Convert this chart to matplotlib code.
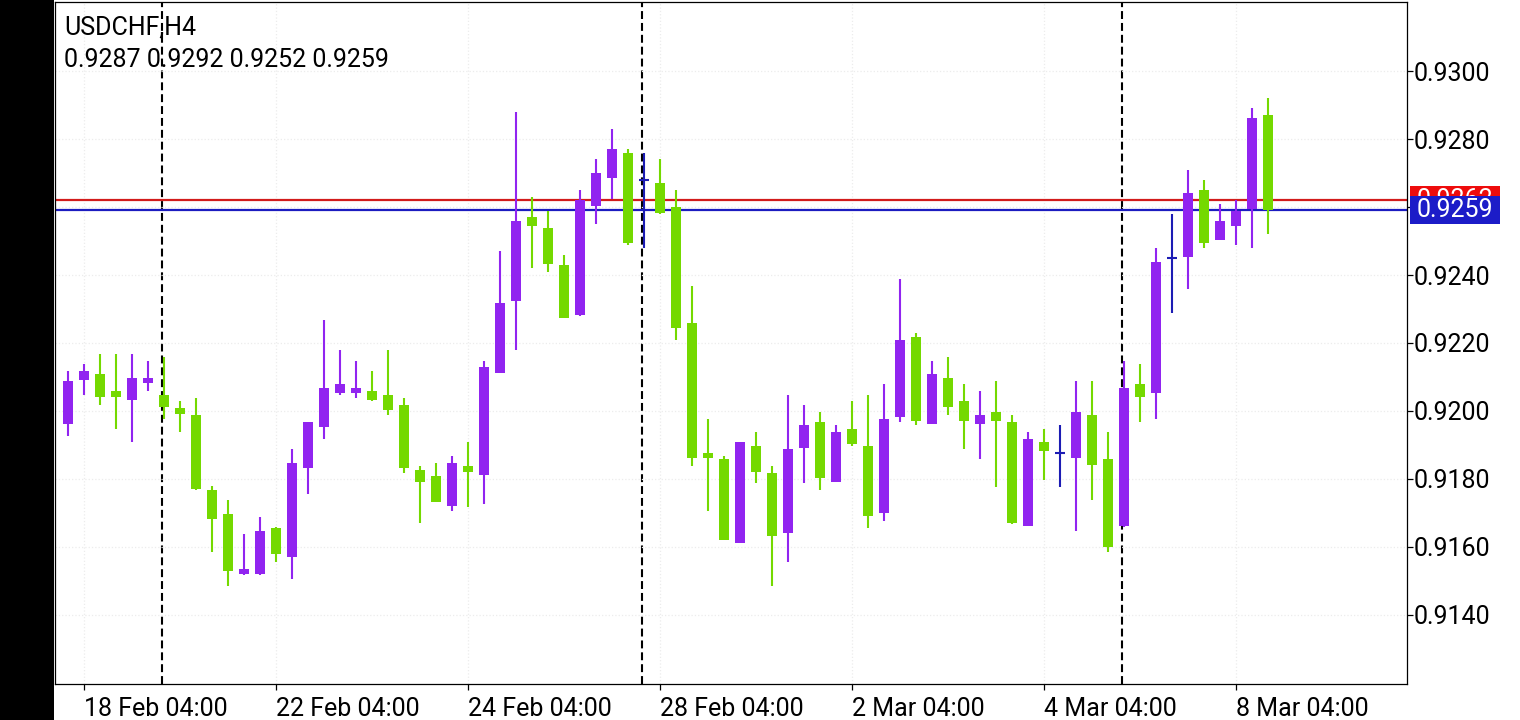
import matplotlib
matplotlib.use('Agg')
import matplotlib.pyplot as plt
import matplotlib.transforms as mtransforms
from matplotlib.patches import Rectangle
import numpy as np
import pandas as pnd

plt.rcParams['font.family'] = ['Roboto', 'DejaVu Sans']

symbol = 'USDCHF,H4'

# H4 candles, oldest first
opens = [0.91963, 0.92092, 0.92110, 0.92059, 0.92033, 0.92083, 0.92047, 0.92009, 0.91988, 0.91768,
         0.91697, 0.91521, 0.91521, 0.91656, 0.91571, 0.91833, 0.91954, 0.92054, 0.92054, 0.92059,
         0.92047, 0.92018, 0.91826, 0.91809, 0.91721, 0.91838, 0.91813, 0.92113, 0.92324, 0.92571,
         0.92538, 0.92429, 0.92282, 0.92604, 0.92686, 0.92759, 0.92679, 0.92671, 0.92600, 0.92259,
         0.91876, 0.91859, 0.91613, 0.91897, 0.91818, 0.91642, 0.91892, 0.91968, 0.91792, 0.91947,
         0.91897, 0.91701, 0.91983, 0.92218, 0.91963, 0.92097, 0.92029, 0.91963, 0.91997, 0.91968,
         0.91663, 0.91909, 0.91877, 0.91863, 0.91988, 0.91859, 0.91663, 0.92079, 0.92054, 0.92450,
         0.92454, 0.92650, 0.92504, 0.92545, 0.92595, 0.92870]
highs = [0.92118, 0.92138, 0.92168, 0.92168, 0.92168, 0.92147, 0.92158, 0.92029, 0.92038, 0.91778,
         0.91738, 0.91638, 0.91687, 0.91660, 0.91888, 0.91968, 0.92268, 0.92179, 0.92147, 0.92118,
         0.92179, 0.92038, 0.91838, 0.91847, 0.91868, 0.91909, 0.92147, 0.92471, 0.92879, 0.92629,
         0.92588, 0.92459, 0.92650, 0.92741, 0.92829, 0.92771, 0.92758, 0.92741, 0.92650, 0.92368,
         0.91976, 0.91868, 0.91909, 0.91938, 0.91838, 0.92047, 0.92018, 0.91997, 0.91959, 0.92029,
         0.92047, 0.92079, 0.92388, 0.92229, 0.92147, 0.92159, 0.92079, 0.92059, 0.92088, 0.91988,
         0.91938, 0.91947, 0.91959, 0.92088, 0.92088, 0.91938, 0.92147, 0.92138, 0.92479, 0.92579,
         0.92709, 0.92679, 0.92609, 0.92621, 0.92891, 0.92920]
lows = [0.91927, 0.92048, 0.92019, 0.91948, 0.91910, 0.92059, 0.91977, 0.91939, 0.91769, 0.91586,
        0.91486, 0.91519, 0.91519, 0.91557, 0.91507, 0.91757, 0.91918, 0.92048, 0.92039, 0.92030,
        0.91989, 0.91818, 0.91672, 0.91733, 0.91707, 0.91719, 0.91727, 0.92113, 0.92180, 0.92421,
        0.92410, 0.92274, 0.92279, 0.92551, 0.92624, 0.92488, 0.92480, 0.92580, 0.92210, 0.91839,
        0.91705, 0.91621, 0.91613, 0.91789, 0.91486, 0.91557, 0.91789, 0.91769, 0.91792, 0.91897,
        0.91657, 0.91677, 0.91969, 0.91960, 0.91963, 0.91989, 0.91889, 0.91860, 0.91777, 0.91668,
        0.91663, 0.91798, 0.91777, 0.91648, 0.91739, 0.91586, 0.91660, 0.91969, 0.91977, 0.92289,
        0.92360, 0.92480, 0.92504, 0.92488, 0.92480, 0.92520]
closes = [0.92088, 0.92118, 0.92042, 0.92042, 0.92097, 0.92097, 0.92013, 0.91992, 0.91771, 0.91683,
          0.91530, 0.91535, 0.91647, 0.91580, 0.91847, 0.91968, 0.92068, 0.92079, 0.92069, 0.92033,
          0.92004, 0.91833, 0.91792, 0.91733, 0.91847, 0.91821, 0.92129, 0.92318, 0.92559, 0.92545,
          0.92433, 0.92274, 0.92621, 0.92700, 0.92771, 0.92495, 0.92679, 0.92583, 0.92245, 0.91863,
          0.91863, 0.91621, 0.91909, 0.91821, 0.91633, 0.91888, 0.91959, 0.91804, 0.91938, 0.91904,
          0.91692, 0.91976, 0.92209, 0.91971, 0.92109, 0.92013, 0.91971, 0.91988, 0.91971, 0.91671,
          0.91918, 0.91883, 0.91877, 0.91997, 0.91842, 0.91601, 0.92068, 0.92042, 0.92438, 0.92450,
          0.92641, 0.92495, 0.92559, 0.92588, 0.92862, 0.92590]
ask = 0.9262

# candle times: 4h bars, weekends skipped, first bar 18 Feb 2022 00:00
times = pnd.date_range('2022-02-18 00:00', periods=200, freq='4h')
times = times[times.weekday < 5][:len(opens)]

up_col = '#9124f0'
down_col = '#74d900'
doji_col = '#1c1cb4'

fig = plt.figure(figsize=(15.2, 7.2), dpi=100)
W, H = 1520, 720
ax = fig.add_axes([55 / W, (H - 684) / H, (1407 - 55) / W, (684 - 2) / H])

# black strip on the left
fig.patches.append(Rectangle((0, 0), 54 / W, 1, transform=fig.transFigure,
                             facecolor='black', edgecolor='none', zorder=0))

x = np.arange(len(opens))
o = np.array(opens)
c = np.array(closes)
h = np.array(highs)
l = np.array(lows)

ax.set_xlim(-0.8, 83.7)
ax.set_ylim(0.91197, 0.93203)

# grid
ax.grid(True, color='#ececec', linestyle=':', linewidth=0.9, zorder=0)

# week separators (monday 00:00)
for i, t in enumerate(times):
    if t.weekday() == 0 and t.hour == 0:
        ax.axvline(i - 0.1, color='black', lw=1.5, dashes=(3.8, 1.9), zorder=1)

# bid / ask lines
bid = closes[-1]
ax.axhline(ask, color='#d21c1c', lw=1.6, zorder=2)
ax.axhline(bid, color='#1c1cc0', lw=1.6, zorder=2)

# candles
doji = np.isclose(o, c)
up = (c > o) & ~doji
down = (c < o) & ~doji
for mask, col in ((up, up_col), (down, down_col)):
    ax.vlines(x[mask], l[mask], h[mask], color=col, lw=1.5, zorder=3)
    bottoms = np.minimum(o[mask], c[mask])
    heights = np.abs(c[mask] - o[mask])
    ax.bar(x[mask], heights, bottom=bottoms, width=0.62, color=col, linewidth=0, zorder=4)
ax.vlines(x[doji], l[doji], h[doji], color=doji_col, lw=1.5, zorder=3)
ax.hlines(o[doji], x[doji] - 0.3, x[doji] + 0.3, color=doji_col, lw=1.5, zorder=4)

# axes styling
for sp in ax.spines.values():
    sp.set_color('black')
    sp.set_linewidth(0.9)

yt = np.arange(0.9140, 0.93001, 0.0020)
ax.yaxis.tick_right()
ax.set_yticks(yt)
ax.set_yticklabels(['%.4f' % v for v in yt])
ax.tick_params(axis='y', direction='out', length=4, width=0.9, pad=0.5, labelsize=18, colors='black')

xt = x[1::12]
ax.set_xticks(xt)
ax.set_xticklabels(['%d %s' % (times[i].day, times[i].strftime('%b %H:%M')) for i in xt], ha='left')
ax.tick_params(axis='x', direction='out', length=4, width=0.9, pad=5, labelsize=18, colors='black')

# price tags on the right: ask tag first, bid tag laid over it
tr = mtransforms.blended_transform_factory(ax.transAxes, ax.transData)
bx0 = (1410 - 55) / 1352
bw = 90 / 1352
bh = 28 / 34000
ask_box = Rectangle((bx0, ask - bh / 2), bw, bh, transform=tr, facecolor='#ee0c0c',
                    edgecolor='none', clip_on=False, zorder=10)
ax.add_patch(ask_box)
# only the part of the ask tag above the bid tag stays visible
ask_vis = Rectangle((bx0, bid + bh / 2), bw, ask + bh / 2 - (bid + bh / 2), transform=tr,
                    facecolor='none', edgecolor='none')
ax.add_patch(ask_vis)
ask_txt = ax.text(bx0 + bw / 2, ask, '%.4f' % ask, transform=tr, color='white', fontsize=18,
                  ha='center', va='center', zorder=11)
ask_txt.set_clip_path(ask_vis)
ax.add_patch(Rectangle((bx0, bid - bh / 2), bw, bh, transform=tr, facecolor='#1c1cc8',
                       edgecolor='none', clip_on=False, zorder=12))
ax.text(bx0 + bw / 2, bid, '%.4f' % bid, transform=tr, color='white', fontsize=18,
        ha='center', va='center', clip_on=False, zorder=13)

# header
last = '%.4f %.4f %.4f %.4f' % (opens[-1], highs[-1], lows[-1], closes[-1])
fig.text(64 / W, 1 - 28 / H, symbol, fontsize=18, ha='left', va='center', color='black')
fig.text(64 / W, 1 - 60 / H, last, fontsize=18, ha='left', va='center', color='black')

fig.savefig('out.png', dpi=100, facecolor='white')
